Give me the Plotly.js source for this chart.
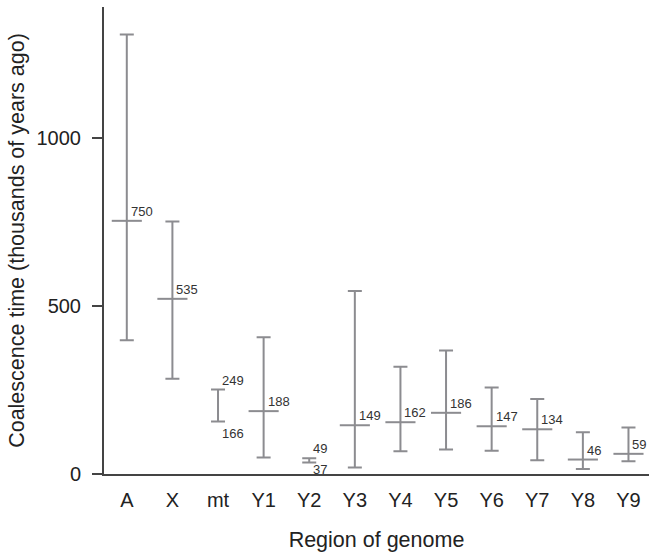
<!DOCTYPE html>
<html>
<head>
<meta charset="utf-8">
<script src="https://cdn.plot.ly/plotly-3.0.1.min.js"></script>
<style>
  html, body { margin: 0; padding: 0; background: #ffffff; }
  #chart { width: 649px; height: 554px; }
</style>
</head>
<body>
<div id="chart"></div>
<script>
// Regions of the genome (x categories)
const regions = ["A", "X", "mt", "Y1", "Y2", "Y3", "Y4", "Y5", "Y6", "Y7", "Y8", "Y9"];
// Upper and lower ends of each interval (thousands of years ago)
const upper = [1307, 751, 251, 407, 47, 544, 319, 367, 257, 223, 124, 138];
const lower = [398, 283, 156, 49, 34, 19, 68, 73, 69, 41, 15, 38];
// Point estimates (null where only a range is given)
const estimate = [753, 521, null, 187, null, 145, 154, 182, 142, 133, 43, 60];
// Printed value labels
const estimateLabels = ["750", "535", null, "188", null, "149", "162", "186", "147", "134", "46", "59"];
const upperLabels = [null, null, "249", null, "49", null, null, null, null, null, null, null];
const lowerLabels = [null, null, "166", null, "37", null, null, null, null, null, null, null];
// Y-axis ticks
const yTicks = [0, 500, 1000];

const barColor = "#8c8c90";
const axisColor = "#444444";
const textColor = "#222222";
const fontFamily = "'Liberation Sans', Arial, Helvetica, sans-serif";

const intervalTrace = {
  type: "scatter",
  mode: "markers",
  x: regions,
  y: upper,
  marker: { size: 1, opacity: 0 },
  error_y: {
    type: "data",
    symmetric: false,
    array: upper.map(() => 0),
    arrayminus: upper.map((u, i) => u - lower[i]),
    width: 7,
    thickness: 2,
    color: barColor
  },
  hoverinfo: "skip",
  showlegend: false
};

const estimateTrace = {
  type: "scatter",
  mode: "markers",
  x: regions,
  y: estimate,
  marker: {
    symbol: "line-ew",
    size: 21.5,
    color: barColor,
    line: { width: 2, color: barColor }
  },
  hoverinfo: "skip",
  showlegend: false
};

const labelFont = { family: fontFamily, size: 13, color: "#333333" };
const annotations = [];
regions.forEach((r, i) => {
  if (estimateLabels[i] !== null) {
    annotations.push({
      x: r, y: estimate[i], xref: "x", yref: "y",
      text: estimateLabels[i], showarrow: false,
      xanchor: "left", yanchor: "bottom", xshift: 2, yshift: 0,
      font: labelFont
    });
  }
  if (upperLabels[i] !== null) {
    annotations.push({
      x: r, y: upper[i], xref: "x", yref: "y",
      text: upperLabels[i], showarrow: false,
      xanchor: "left", yanchor: "bottom", xshift: 2, yshift: 0,
      font: labelFont
    });
  }
  if (lowerLabels[i] !== null) {
    annotations.push({
      x: r, y: lower[i], xref: "x", yref: "y",
      text: lowerLabels[i], showarrow: false,
      xanchor: "left", yanchor: "top", xshift: 2, yshift: i === 4 ? 3 : -2,
      font: labelFont
    });
  }
});

const layout = {
  width: 649,
  height: 554,
  margin: { l: 104, r: 0, t: 7, b: 80, pad: 0 },
  paper_bgcolor: "#ffffff",
  plot_bgcolor: "#ffffff",
  font: { family: fontFamily, color: textColor, size: 20 },
  showlegend: false,
  xaxis: {
    type: "category",
    range: [-0.5, 11.45],
    showline: true,
    linecolor: axisColor,
    linewidth: 2,
    showgrid: false,
    zeroline: false,
    ticks: "outside",
    ticklen: 7,
    tickcolor: "rgba(0,0,0,0)",
    tickfont: { family: fontFamily, size: 20, color: textColor },
    title: { text: "Region of genome", font: { family: fontFamily, size: 21.5, color: textColor }, standoff: 22 },
    fixedrange: true
  },
  yaxis: {
    range: [0, 1389],
    showline: true,
    linecolor: axisColor,
    linewidth: 2,
    showgrid: false,
    zeroline: false,
    ticks: "outside",
    ticklen: 10,
    tickwidth: 1.5,
    tickcolor: axisColor,
    ticklabelstandoff: 7,
    tickvals: yTicks,
    ticktext: yTicks.map(String),
    tickfont: { family: fontFamily, size: 20, color: textColor },
    title: { text: "Coalescence time (thousands of years ago)", font: { family: fontFamily, size: 21.5, color: textColor }, standoff: 6 },
    fixedrange: true
  },
  annotations: annotations
};

Plotly.newPlot("chart", [intervalTrace, estimateTrace], layout, { displayModeBar: false, staticPlot: true });
</script>
</body>
</html>
